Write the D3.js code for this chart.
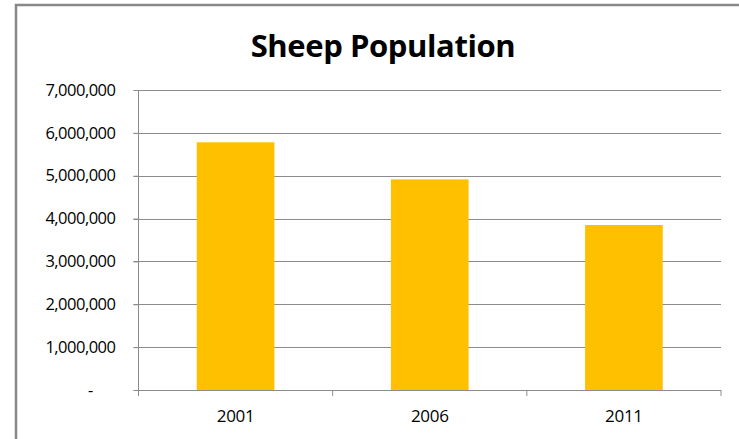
<!DOCTYPE html>
<html><head><meta charset="utf-8">
<script src="https://cdn.jsdelivr.net/npm/d3@7"></script>
<style>body{margin:0;background:#fff;}svg{display:block;font-family:Carlito,Calibri,"Open Sans","Liberation Sans",sans-serif;}</style>
</head><body>
<script>
const categories = ["2001", "2006", "2011"];
const values = [5780000, 4915000, 3850000];
const yTicks = [0, 1000000, 2000000, 3000000, 4000000, 5000000, 6000000, 7000000];
const title = "Sheep Population";

(function () {
const W = 739, H = 439;
const svg = d3.select("body").append("svg").attr("width", W).attr("height", H);
// chart border
svg.append("rect").attr("x", 16).attr("y", 5).attr("width", 800).attr("height", 600)
  .attr("fill", "#fff").attr("stroke", "#888").attr("stroke-width", 2.5);

const pL = 138.5, pR = 721, pT = 90, pB = 390;
const x = d3.scaleBand().domain(categories).range([pL, pR]).paddingInner(0.6).paddingOuter(0.3);
const xb = d3.scaleBand().domain(categories).range([pL, pR]);
const y = d3.scaleLinear().domain([0, 7000000]).range([pB, pT]);

svg.append("text").attr("x", 383).attr("y", 57).attr("text-anchor", "middle")
  .attr("font-size", 31).attr("font-weight", "bold").attr("fill", "#000")
  .attr("font-family", "'Open Sans',sans-serif").attr("letter-spacing", -0.4)
  .text(title);

// gridlines
svg.append("g").selectAll("line").data(yTicks.filter(d => d > 0)).join("line")
  .attr("x1", pL - 5).attr("x2", pR).attr("y1", d => Math.round(y(d)) + 0.5).attr("y2", d => Math.round(y(d)) + 0.5)
  .attr("stroke", "#8c8c8c").attr("stroke-width", 1);

// bars
svg.append("g").selectAll("rect").data(values).join("rect")
  .attr("x", (d, i) => x(categories[i])).attr("width", x.bandwidth())
  .attr("y", d => y(d)).attr("height", d => pB - y(d))
  .attr("fill", "#ffc000");

// y axis
const yAxis = d3.axisLeft(y).tickValues(yTicks).tickSize(5).tickPadding(18)
  .tickFormat(d => d === 0 ? "-      " : d3.format(",")(d));
const gy = svg.append("g").attr("transform", `translate(${pL},0)`).call(yAxis);
gy.select(".domain").remove();
gy.append("line").attr("x1", 0).attr("x2", 0).attr("y1", pT).attr("y2", pB + 6).attr("stroke", "#8c8c8c");
gy.selectAll(".tick line").attr("stroke", "#8c8c8c");
gy.selectAll(".tick text").attr("font-size", 16.5).attr("fill", "#000")
  .attr("font-family", "'Open Sans',sans-serif").attr("letter-spacing", -0.5).style("white-space", "pre");

// x axis
const gx = svg.append("g");
gx.append("line").attr("x1", pL - 5).attr("x2", pR).attr("y1", pB + 0.5).attr("y2", pB + 0.5).attr("stroke", "#8c8c8c");
const bounds = categories.map(c => xb(c) + xb.bandwidth());
gx.selectAll("line.t").data(bounds).join("line").attr("class", "t")
  .attr("x1", d => d).attr("x2", d => d).attr("y1", pB).attr("y2", pB + 6).attr("stroke", "#8c8c8c");
gx.selectAll("text").data(categories).join("text")
  .attr("x", d => xb(d) + xb.bandwidth() / 2).attr("y", 422).attr("text-anchor", "middle")
  .attr("font-size", 17).attr("font-family", "'Open Sans',sans-serif").attr("letter-spacing", -0.3).attr("fill", "#000")
  .text(d => d);
})();
</script>
</body></html>
